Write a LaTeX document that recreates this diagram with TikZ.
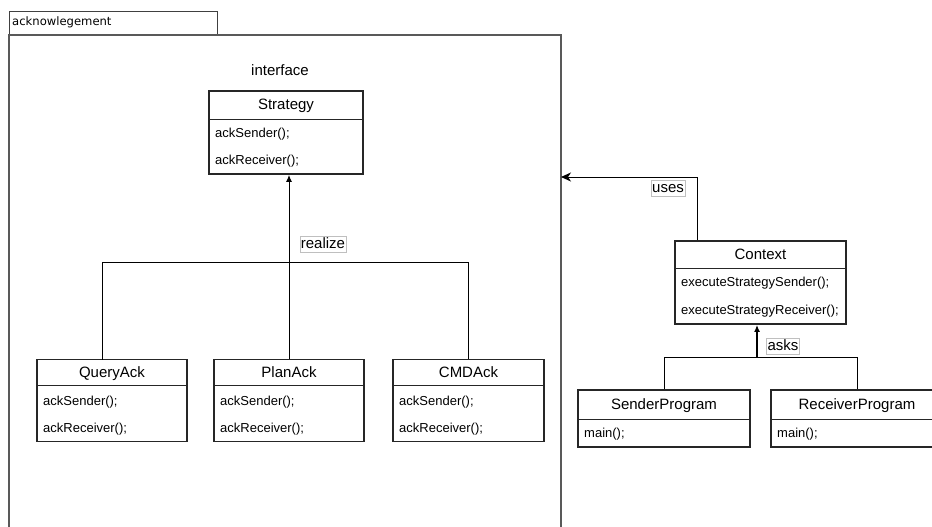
\documentclass[tikz,border=0pt]{standalone}
\usepackage{fontspec}
\setmainfont{Liberation Sans}
\newfontfamily\pkgfont{DejaVu Sans}
\usetikzlibrary{arrows.meta}

\begin{document}
\begin{tikzpicture}[x=1pt,y=-1pt,
  classbox/.style={draw=black!85,line width=1.8pt,fill=white,inner sep=0pt},
  classname/.style={text=black,inner sep=0pt,text height=11pt,text depth=3pt,font=\fontsize{15}{15}\selectfont},
  method/.style={anchor=west,text=black,inner sep=0pt,text height=9.5pt,text depth=3pt,font=\fontsize{13}{13}\selectfont},
  divider/.style={draw=black!85,line width=0.9pt},
  conn/.style={draw=black,line width=1pt},
  lbl/.style={draw=black!25,fill=white,inner sep=1pt,text height=11pt,text depth=3pt,text=black,font=\fontsize{15}{15}\selectfont}]
\useasboundingbox (0,0) rectangle (932,527);

% package frame
\node (tab) at (9,11) [anchor=north west,draw=black!75,line width=1pt,minimum width=208pt,minimum height=24pt] {};
\node (tabtext) at (12,22) [anchor=west,inner sep=0pt,font=\pkgfont\fontsize{11.6}{11.6}\selectfont] {acknowlegement};
\draw[draw=black!65,line width=1.3pt] (9,535) -- (9,35) -- (561,35) -- (561,535);
\coordinate (framehit) at (561,177);

% strategy interface
\node (stereo) at (280,72) [classname] {interface};
\node (strategy) at (286,132.5) [classbox,minimum width=154pt,minimum height=83pt] {};
\node (strategyname) at (286,106) [classname] {Strategy};
\draw[divider] (209,119) -- (363,119);
\node (strategy1) at (215,134) [method] {ackSender();};
\node (strategy2) at (215,161) [method] {ackReceiver();};

% implementations
\node (queryack) at (112,400.5) [classbox,minimum width=150pt,minimum height=82pt] {};
\node (queryackname) at (112,373) [classname] {QueryAck};
\draw[divider] (37,385) -- (187,385);
\node (queryack1) at (43,402) [method] {ackSender();};
\node (queryack2) at (43,429) [method] {ackReceiver();};

\node (planack) at (289,400.5) [classbox,minimum width=150pt,minimum height=82pt] {};
\node (planackname) at (289,373) [classname] {PlanAck};
\draw[divider] (214,385) -- (364,385);
\node (planack1) at (220,402) [method] {ackSender();};
\node (planack2) at (220,429) [method] {ackReceiver();};

\node (cmdack) at (468.5,400.5) [classbox,minimum width=151pt,minimum height=82pt] {};
\node (cmdackname) at (468.5,373) [classname] {CMDAck};
\draw[divider] (393,385) -- (544,385);
\node (cmdack1) at (399,402) [method] {ackSender();};
\node (cmdack2) at (399,429) [method] {ackReceiver();};

\coordinate (realizeL) at (102,262);
\coordinate (realizeR) at (468.5,262);
\coordinate (querytop) at (102,359.5);
\draw[conn,-{Latex[length=7pt,width=6pt]}] (planack.north) -- (planack.north |- strategy.south);
\draw[conn] (querytop) -- (realizeL) -- (realizeR) -- (cmdack.north);
\node (realize) at (323,244) [lbl] {realize};

% context
\node (context) at (760.5,282.5) [classbox,minimum width=171pt,minimum height=83pt] {};
\node (contextname) at (760.5,255) [classname] {Context};
\draw[divider] (675,268) -- (846,268);
\node (context1) at (681,283) [method] {executeStrategySender();};
\node (context2) at (681,311) [method] {executeStrategyReceiver();};

\coordinate (usesbend) at (697,177);
\draw[conn,-{Stealth[length=10pt,width=9pt,inset=3pt]}] (context.north -| usesbend) -- (usesbend) -- (framehit);
\node (uses) at (668,188) [lbl] {uses};

% programs
\node (senderprogram) at (664,418.5) [classbox,minimum width=172pt,minimum height=57pt] {};
\node (senderprogramname) at (664,405) [classname] {SenderProgram};
\draw[divider] (578,419) -- (750,419);
\node (senderprogram1) at (584,434) [method] {main();};

\node (receiverprogram) at (857,418.5) [classbox,minimum width=172pt,minimum height=57pt] {};
\node (receiverprogramname) at (857,405) [classname] {ReceiverProgram};
\draw[divider] (771,419) -- (943,419);
\node (receiverprogram1) at (777,434) [method] {main();};

\coordinate (asksL) at (664,357);
\coordinate (asksR) at (857,357);
\coordinate (asksmid) at (757,357);
\draw[conn] (senderprogram.north) -- (asksL) -- (asksR) -- (receiverprogram.north);
\draw[conn,line width=2.2pt,-{Latex[length=7pt,width=6pt]}] (asksmid) -- (context.south -| asksmid);
\node (asks) at (783,346) [lbl] {asks};
\end{tikzpicture}
\end{document}
